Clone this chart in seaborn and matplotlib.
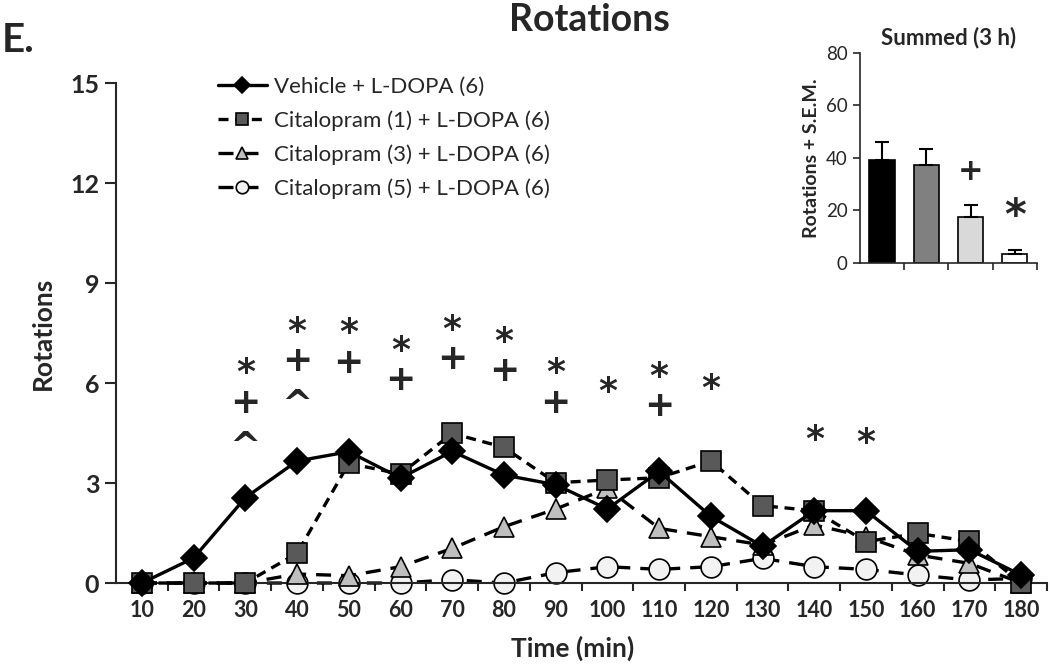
import numpy as np
import pandas as pd
import matplotlib
matplotlib.use("Agg")
import matplotlib.pyplot as plt
import seaborn as sns

# Time points (min)
times = [10, 20, 30, 40, 50, 60, 70, 80, 90, 100, 110, 120, 130, 140, 150, 160, 170, 180]

# Mean rotations per time bin
vehicle = [0, 0.75, 2.56, 3.66, 3.94, 3.15, 3.95, 3.24, 2.95, 2.22, 3.35, 2.0, 1.1, 2.17, 2.17, 0.95, 1.0, 0.24]
cit1 = [0, 0, 0, 0.89, 3.59, 3.27, 4.49, 4.07, 3.01, 3.09, 3.16, 3.66, 2.32, 2.17, 1.24, 1.49, 1.25, 0.0]
cit3 = [0, 0, 0, 0.27, 0.22, 0.49, 1.04, 1.69, 2.22, 2.84, 1.64, 1.39, 1.14, 1.74, 1.39, 0.84, 0.59, 0.0]
cit5 = [0, 0, 0, 0, 0, 0, 0.1, 0, 0.31, 0.49, 0.41, 0.49, 0.74, 0.49, 0.41, 0.24, 0.09, 0.14]

labels = ["Vehicle + L-DOPA (6)", "Citalopram (1) + L-DOPA (6)",
          "Citalopram (3) + L-DOPA (6)", "Citalopram (5) + L-DOPA (6)"]

# Summed over 3 h (inset)
summed = [39.2, 37.3, 17.5, 3.5]
summed_sem = [7.0, 6.1, 4.4, 1.3]

# significance symbols stacked above each time bin
sig_times = [30, 40, 50, 60, 70, 80, 90, 100, 110, 120, 140, 150]
sig_symbols = ["*\n+", "*\n+", "*\n+", "*\n+", "*\n+", "*\n+", "*\n+",
               "*", "*\n+", "*", "*", "*"]
sig_tops = [6.8, 8.05, 8.0, 7.47, 8.1, 7.75, 6.8, 6.25, 6.7, 6.33, 4.8, 4.7]
caret_times = [30, 40]  # "^" below the stack
inset_marks = [("+", 2, 34.8), ("*", 3, 19.6)]

sns.set_style("ticks")
plt.rcParams["font.family"] = ["Lato", "DejaVu Sans"]

fig = plt.figure(figsize=(10.5, 6.68), dpi=100)
ax = fig.add_axes([0.1105, 0.1272, 0.8867, 0.7485])

df = pd.DataFrame({"time": times * 4,
                   "rot": vehicle + cit1 + cit3 + cit5,
                   "group": np.repeat(labels, len(times))})

styles = {
    labels[0]: dict(marker="D", markersize=13, markerfacecolor="black", linestyle="-", zorder=5),
    labels[1]: dict(marker="s", markersize=14, markerfacecolor="#595959", linestyle=(0, (3, 2)), zorder=4),
    labels[2]: dict(marker="^", markersize=15, markerfacecolor="#bfbfbf", linestyle=(0, (4.5, 3)), zorder=3),
    labels[3]: dict(marker="o", markersize=15, markerfacecolor="#f2f2f2", linestyle=(0, (4.5, 3)), zorder=2),
}

for lab in labels:
    sub = df[df["group"] == lab]
    sns.lineplot(data=sub, x="time", y="rot", ax=ax, color="black", linewidth=2.4,
                 markeredgecolor="black", markeredgewidth=1.2, clip_on=False,
                 label=lab, **styles[lab])

ax.set_xlim(5, 185)
ax.set_ylim(0, 15)
ax.set_yticks([0, 3, 6, 9, 12, 15])
ax.set_xticks(times)
ax.set_xticks(np.arange(15, 186, 10), minor=True)
ax.tick_params(axis="x", which="major", length=0, pad=12, labelsize=15.5)
ax.tick_params(axis="x", which="minor", length=6, width=1.5, direction="out")
ax.tick_params(axis="y", length=8, width=1.5, direction="out", labelsize=18, pad=4)
for t in ax.get_xticklabels() + ax.get_yticklabels():
    t.set_fontweight("bold")
for s in ["top", "right"]:
    ax.spines[s].set_visible(False)
for s in ["left", "bottom"]:
    ax.spines[s].set_linewidth(1.5)
ax.set_xlabel("Time (min)", fontsize=19, fontweight="bold")
ax.set_ylabel("Rotations", fontsize=19, fontweight="bold")
ax.xaxis.set_label_coords(0.49, -0.105)
ax.yaxis.set_label_coords(-0.066, 0.5)

stacks = {}
for t, sym, top in zip(sig_times, sig_symbols, sig_tops):
    stacks[t] = ax.text(t, top, sym, ha="center", va="top", fontsize=26, linespacing=0.82,
                        fontweight="bold", family=["DejaVu Sans"])

# put the carets a little under their stacks
fig.canvas.draw()
inv = ax.transData.inverted()
for t in caret_times:
    bb = stacks[t].get_window_extent()
    y_bottom = inv.transform((bb.x0, bb.y0 - 10))[1]
    ax.text(t, y_bottom, "^", ha="center", va="top", fontsize=27,
            fontweight="bold", family=["DejaVu Sans"])

leg = ax.legend(loc="upper left", bbox_to_anchor=(0.1, 1.03), frameon=False,
                fontsize=16, handlelength=2.2, handletextpad=0.3, labelspacing=0.6,
                markerscale=0.6, borderaxespad=0)

# inset: summed rotations
axi = fig.add_axes([0.819, 0.6063, 0.1686, 0.3149])
inset_df = pd.DataFrame({"grp": labels, "val": summed})
sns.barplot(data=inset_df, x="grp", y="val", hue="grp", legend=False, ax=axi,
            palette=["black", "#808080", "#d9d9d9", "white"],
            edgecolor="black", linewidth=1.2, width=0.57)
axi.errorbar(range(4), summed, yerr=[np.zeros(4), summed_sem], fmt="none",
             ecolor="black", elinewidth=1.5, capsize=5, capthick=1.5)
axi.set_xlim(-0.5, 3.5)
axi.set_ylim(0, 80)
axi.set_yticks([0, 20, 40, 60, 80])
axi.set_xticks([])
axi.set_xticks([0.5, 1.5, 2.5, 3.5], minor=True)
axi.tick_params(axis="x", which="minor", length=5, width=1.2, direction="out")
axi.tick_params(axis="y", length=5, width=1.2, labelsize=13.5, pad=4)
axi.set_xlabel("")
axi.set_ylabel("Rotations + S.E.M.", fontsize=14, fontweight="bold", labelpad=4)
axi.set_title("Summed (3 h)", fontsize=16, fontweight="bold", pad=6)
for s in ["top", "right"]:
    axi.spines[s].set_visible(False)
for s in ["left", "bottom"]:
    axi.spines[s].set_linewidth(1.2)
for sym, i, h in inset_marks:
    axi.text(i, h + (-2 if sym == "*" else 0), sym, ha="center", va="center",
             fontsize=30 if sym == "*" else 22, fontweight="bold", family=["DejaVu Sans"])

fig.text(589 / 1050, 1 - 20 / 668, "Rotations", ha="center", va="center",
         fontsize=27, fontweight="bold")
fig.text(0.002, 1 - 40 / 668, "E.", ha="left", va="center", fontsize=29, fontweight="bold")

fig.savefig("out.png", dpi=100)
